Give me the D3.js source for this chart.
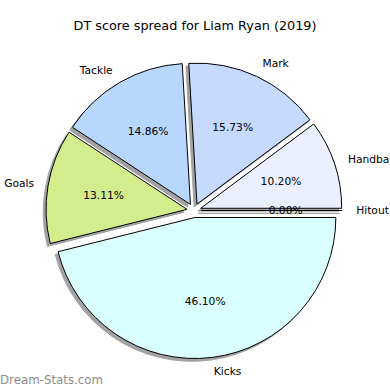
<!DOCTYPE html>
<html>
<head>
<meta charset="utf-8">
<script src="https://cdn.jsdelivr.net/npm/d3@7"></script>
<style>
    body { margin: 0; background: #fff; }
    text { font-family: "DejaVu Sans", sans-serif; }
</style>
</head>
<body>
<script>
let categories = ['Hitout', 'Handball', 'Mark', 'Tackle', 'Goals', 'Kicks']
let values = [0.00, 10.20, 15.73, 14.86, 13.11, 46.10]
let colors = ['#eef2ff', '#eaf0ff', '#c6d9ff', '#b7d7ff', '#d3ec8c', '#daffff']
let title = 'DT score spread for Liam Ryan (2019)'

document.addEventListener('DOMContentLoaded', function() {
    let width = 390
    let height = 390
    let cx = 194
    let cy = 210.5
    let radius = 141
    let explode = 0.05 * radius
    let shadowOffset = 0.02 * radius

    let svg = d3.select('body').append('svg')
        .attr('width', width)
        .attr('height', height)

    // counterclockwise from 3 o'clock, like matplotlib
    let pie = d3.pie()
        .sort(null)
        .value(d => d)
        .startAngle(Math.PI / 2)
        .endAngle(Math.PI / 2 - 2 * Math.PI)

    let arcs = pie(values)
    let arc = d3.arc().innerRadius(0).outerRadius(radius)

    let slices = arcs.map((a, i) => {
        // mid angle in matplotlib terms (ccw from x axis)
        let theta = Math.PI / 2 - (a.startAngle + a.endAngle) / 2
        let ox = cx + explode * Math.cos(theta)
        let oy = cy - explode * Math.sin(theta)
        return { arc: a, theta: theta, x: ox, y: oy, name: categories[i], value: values[i], color: colors[i] }
    })

    // shadows
    svg.append('g').selectAll('path')
        .data(slices)
        .join('path')
        .attr('transform', d => `translate(${d.x - shadowOffset},${d.y + shadowOffset})`)
        .attr('d', d => arc(d.arc))
        .attr('fill', '#474747')
        .attr('stroke', '#474747')
        .attr('stroke-width', 1)
        .attr('opacity', 0.5)

    // wedges
    svg.append('g').selectAll('path')
        .data(slices)
        .join('path')
        .attr('transform', d => `translate(${d.x},${d.y})`)
        .attr('d', d => arc(d.arc))
        .attr('fill', d => d.color)
        .attr('stroke', '#000')
        .attr('stroke-width', 1)
        .attr('stroke-linejoin', 'round')

    // category labels
    svg.append('g').selectAll('text')
        .data(slices)
        .join('text')
        .attr('x', d => d.x + 1.1 * radius * Math.cos(d.theta))
        .attr('y', d => d.y - 1.1 * radius * Math.sin(d.theta))
        .attr('dy', '0.36em')
        .attr('text-anchor', d => (d.x + 1.1 * radius * Math.cos(d.theta)) > cx ? 'start' : 'end')
        .attr('font-size', 10.7)
        .attr('fill', '#000')
        .text(d => d.name)

    // percentage labels
    svg.append('g').selectAll('text')
        .data(slices)
        .join('text')
        .attr('x', d => d.x + 0.6 * radius * Math.cos(d.theta))
        .attr('y', d => d.y - 0.6 * radius * Math.sin(d.theta))
        .attr('dy', '0.36em')
        .attr('text-anchor', 'middle')
        .attr('font-size', 10.7)
        .attr('fill', '#000')
        .text(d => d3.format('.2f')(d.value) + '%')

    svg.append('text')
        .attr('x', 195)
        .attr('y', 30)
        .attr('text-anchor', 'middle')
        .attr('font-size', 12.8)
        .attr('fill', '#000')
        .text(title)

    svg.append('text')
        .attr('x', 0)
        .attr('y', 384)
        .attr('font-size', 11.8)
        .attr('fill', '#8c8c8c')
        .text('Dream-Stats.com')
})
</script>
</body>
</html>
